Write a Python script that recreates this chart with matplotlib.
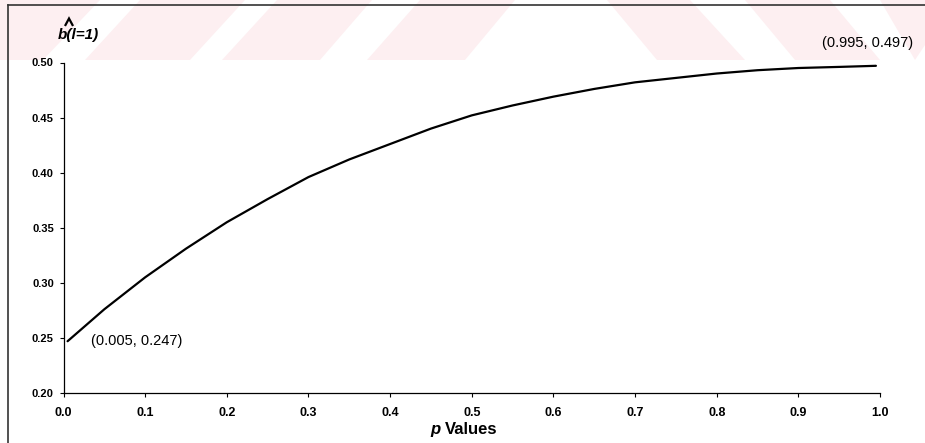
import matplotlib
matplotlib.use("Agg")
import matplotlib.pyplot as plt
from matplotlib.patches import Polygon
from matplotlib.lines import Line2D

# values
p_values = [0.005, 0.05, 0.10, 0.15, 0.20, 0.25, 0.30, 0.35, 0.40, 0.45, 0.50,
            0.55, 0.60, 0.65, 0.70, 0.75, 0.80, 0.85, 0.90, 0.95, 0.995]
b_values = [0.247, 0.276, 0.305, 0.331, 0.355, 0.376, 0.396, 0.412, 0.426, 0.440,
            0.452, 0.461, 0.469, 0.476, 0.482, 0.486, 0.490, 0.493, 0.495, 0.496, 0.497]

x_ticks = [0.0, 0.1, 0.2, 0.3, 0.4, 0.5, 0.6, 0.7, 0.8, 0.9, 1.0]
y_ticks = [0.20, 0.25, 0.30, 0.35, 0.40, 0.45, 0.50]

start_label = "(0.005, 0.247)"
end_label = "(0.995, 0.497)"

W, H = 925, 443
plt.rcParams['font.family'] = ['Liberation Sans', 'DejaVu Sans']

fig = plt.figure(figsize=(W / 100, H / 100), dpi=100)


def fx(x):
    return x / W


def fy(y):
    return 1 - y / H


# faint pink watermark band from the scanned page
pink = '#fdeff1'
shapes = [
    [(0, 60), (43, 60), (100, 0), (0, 0)],
    [(85, 60), (190, 60), (245, 0), (140, 0)],
    [(222, 60), (320, 60), (372, 0), (277, 0)],
    [(367, 60), (465, 60), (515, 0), (420, 0)],
    [(607, 0), (690, 0), (745, 60), (657, 60)],
    [(745, 0), (830, 0), (880, 60), (795, 60)],
    [(880, 0), (925, 0), (925, 45), (915, 60)],
]
for s in shapes:
    fig.patches.append(Polygon([(fx(a), fy(b)) for a, b in s], closed=True,
                               transform=fig.transFigure, facecolor=pink,
                               edgecolor='none', zorder=-5))

# page frame (left and top only)
fig.add_artist(Line2D([fx(8), fx(8)], [0, fy(5)], transform=fig.transFigure,
                      color='#333333', lw=1.2))
fig.add_artist(Line2D([fx(8), 1], [fy(5), fy(5)], transform=fig.transFigure,
                      color='#333333', lw=1.2))

ax = fig.add_axes([fx(63.5), fy(393), fx(880) - fx(63.5), fy(62.5) - fy(393)])
ax.patch.set_alpha(0)
ax.set_zorder(2)

ax.plot(p_values, b_values, color='black', lw=1.6, solid_capstyle='round',
        solid_joinstyle='round')

ax.set_xlim(0, 1)
ax.set_ylim(0.2, 0.5)
ax.set_xticks(x_ticks)
ax.set_xticklabels([f"{v:.1f}" for v in x_ticks], fontsize=9, fontweight='bold')
ax.set_yticks(y_ticks)
ax.set_yticklabels([f"{v:.2f}" for v in y_ticks], fontsize=8, fontweight='bold')
ax.tick_params(axis='x', direction='out', length=3, width=0.8, pad=7)
ax.tick_params(axis='y', direction='out', length=3, width=0.8, pad=4)

for side in ['top', 'right']:
    ax.spines[side].set_visible(False)
for side in ['left', 'bottom']:
    ax.spines[side].set_linewidth(0.9)

# point annotations
fig.text(fx(91), fy(341.5), start_label, fontsize=10.5, ha='left', va='center')
fig.text(fx(822), fy(43.5), end_label, fontsize=10.5, ha='left', va='center')

# y label b-hat(l=1): text plus a drawn hat over the b
fig.text(fx(58), fy(39), "b(l=1)", fontsize=11, fontweight='bold',
         fontstyle='italic', ha='left', va='baseline')
fig.add_artist(Line2D([fx(65.5), fx(69), fx(72.5)], [fy(25), fy(18.5), fy(25)],
                      transform=fig.transFigure, color='black', lw=1.6,
                      solid_joinstyle='miter'))

# x label "p Values"
fig.text(fx(430), fy(434), "p", fontsize=12, fontweight='bold',
         fontstyle='italic', ha='left', va='baseline')
fig.text(fx(445), fy(434), "Values", fontsize=12, fontweight='bold',
         ha='left', va='baseline')

fig.savefig("out.png", dpi=100)
